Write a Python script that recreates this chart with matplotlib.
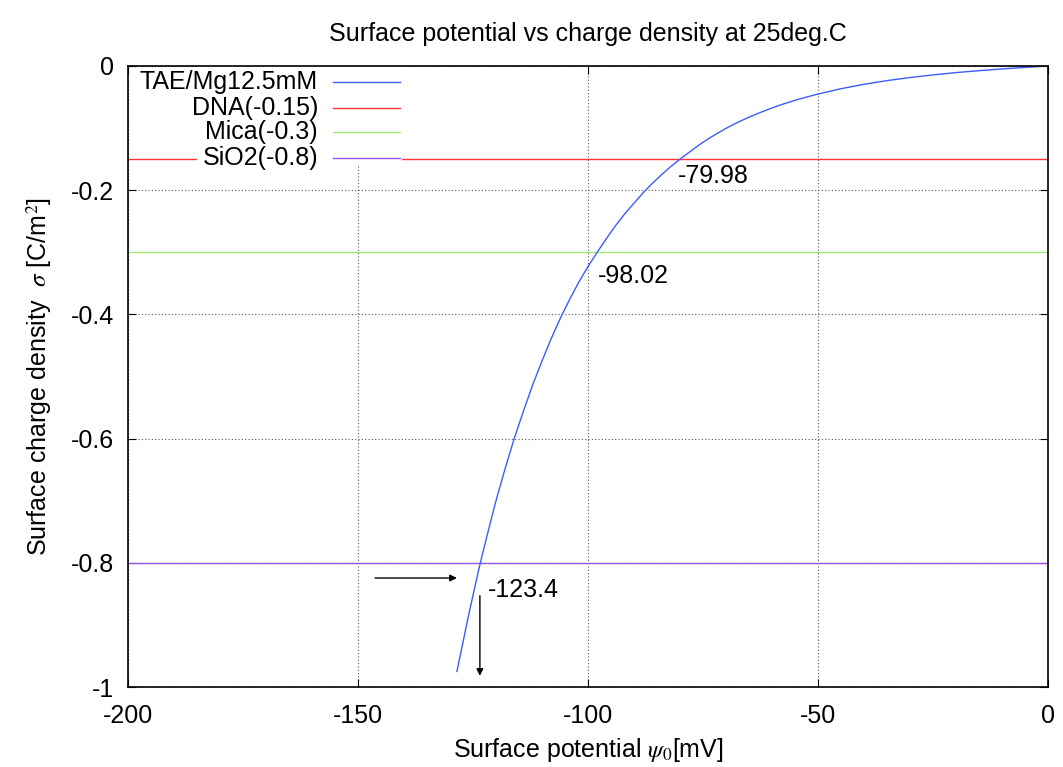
import matplotlib
matplotlib.use("Agg")
import matplotlib.pyplot as plt
from matplotlib.lines import Line2D
from matplotlib.patches import Rectangle

plt.rcParams['font.family'] = ['Liberation Sans', 'DejaVu Sans']
plt.rcParams['mathtext.fontset'] = 'stix'
plt.rcParams['axes.unicode_minus'] = False

# Data
psi_mV = [-128.5, -126.0, -124.0, -123.4, -122.0, -120.0, -118.0, -116.0, -114.0,
          -112.0, -110.0, -108.0, -106.0, -104.0, -102.0, -100.0, -98.0, -96.0,
          -94.0, -92.0, -90.0, -88.0, -86.0, -84.0, -82.0, -80.0, -78.0, -76.0,
          -74.0, -72.0, -70.0, -68.0, -66.0, -64.0, -62.0, -60.0, -58.0, -56.0,
          -54.0, -50.0, -45.0, -40.0, -35.0, -30.0, -25.0, -20.0, -15.0, -10.0,
          -5.0, 0.0]
sigma = [-0.975, -0.886, -0.819, -0.800, -0.758, -0.700, -0.648, -0.599, -0.555,
         -0.513, -0.475, -0.439, -0.406, -0.376, -0.348, -0.323, -0.300, -0.278,
         -0.257, -0.238, -0.221, -0.204, -0.189, -0.175, -0.162, -0.150, -0.139,
         -0.128, -0.118, -0.109, -0.1005, -0.0928, -0.0858, -0.0793, -0.0733,
         -0.0676, -0.0624, -0.0576, -0.0531, -0.0452, -0.0366, -0.0295, -0.0236,
         -0.0186, -0.0144, -0.0107, -0.0076, -0.0048, -0.0023, 0.0]

ref_names = ['DNA(-0.15)', 'Mica(-0.3)', 'SiO2(-0.8)']
ref_values = [-0.15, -0.3, -0.8]
ref_colors = ['#ff3333', '#a0f070', '#9955ee']
curve_name = 'TAE/Mg12.5mM'
curve_color = '#3c5cff'

cross_values = [-79.98, -98.02, -123.4]
cross_labels = ['-79.98', '-98.02', '-123.4']
cross_label_pos = [(-80.4, -0.177), (-97.8, -0.338), (-121.7, -0.844)]

xticks = [-200, -150, -100, -50, 0]
xticklabels = ['-200', '-150', '-100', '-50', '0']
yticks = [0, -0.2, -0.4, -0.6, -0.8, -1.0]
yticklabels = ['0', '-0.2', '-0.4', '-0.6', '-0.8', '-1']

FS = 18

fig = plt.figure(figsize=(10.63, 7.67), dpi=100)
ax = fig.add_axes([0.1204, 0.1043, 0.8655, 0.8097])
ax.set_xlim(-200, 0)
ax.set_ylim(-1, 0)

ax.grid(True, color='#555555', linestyle=(0, (1, 2)), linewidth=0.8, zorder=0)
ax.set_axisbelow(True)

for v, c in zip(ref_values, ref_colors):
    ax.plot([-200, 0], [v, v], color=c, linewidth=1.0, zorder=2)
ax.plot(psi_mV, sigma, color=curve_color, linewidth=1.0, zorder=3)

# annotations
ax.annotate('', xy=(-128.5, -0.8245), xytext=(-146.3, -0.8245),
            arrowprops=dict(arrowstyle='-|>', color='black', lw=1.0,
                            mutation_scale=10, shrinkA=0, shrinkB=0), zorder=5)
ax.annotate('', xy=(cross_values[2] - 0.1, -0.982), xytext=(cross_values[2] - 0.1, -0.853),
            arrowprops=dict(arrowstyle='-|>', color='black', lw=1.0,
                            mutation_scale=10, shrinkA=0, shrinkB=0), zorder=5)
for lab, (x, y) in zip(cross_labels, cross_label_pos):
    ax.text(x, y, lab, fontsize=FS, ha='left', va='center', zorder=6)

# gnuplot-style key: text right aligned, sample line to the right
ax.add_patch(Rectangle((0.0755, 0.84), 0.222, 0.17, transform=ax.transAxes,
                       facecolor='white', edgecolor='none', zorder=4))
names = [curve_name] + ref_names
colors = [curve_color] + ref_colors
row_y = [0.974, 0.933, 0.893, 0.852]
for n, c, yy in zip(names, colors, row_y):
    ax.text(0.2065, yy, n, transform=ax.transAxes, fontsize=FS,
            ha='right', va='center', zorder=6)
    ax.add_line(Line2D([0.2228, 0.2957], [yy, yy], transform=ax.transAxes,
                       color=c, linewidth=1.0, zorder=6))

ax.set_xticks(xticks)
ax.set_xticklabels(xticklabels)
ax.set_yticks(yticks)
ax.set_yticklabels(yticklabels)
ax.tick_params(direction='in', length=6, width=0.8, top=True, right=True,
               labelsize=FS, colors='black')
ax.tick_params(axis='x', pad=12)
ax.tick_params(axis='y', pad=10)
for s in ax.spines.values():
    s.set_linewidth(1.2)
    s.set_zorder(7)

ax.set_title('Surface potential vs charge density at 25deg.C', fontsize=FS, pad=18)
ax.set_xlabel(r'Surface potential $\psi_0$[mV]', fontsize=FS, labelpad=6)
ax.set_ylabel(r'Surface charge density  $\sigma$ [C/m$^2$]', fontsize=FS, labelpad=12)

fig.savefig('out.png', dpi=100)
